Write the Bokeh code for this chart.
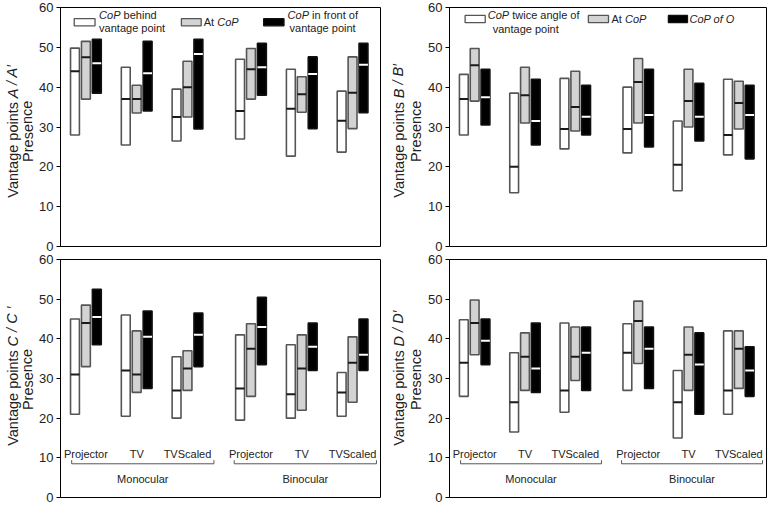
from bokeh.plotting import figure
from bokeh.layouts import gridplot
from bokeh.models import Range1d, FixedTicker
from bokeh.core.properties import value
from bokeh.embed import file_html
from bokeh.resources import INLINE

FONT = "Liberation Sans"
INK = "#222222"

conditions = ["Projector", "TV", "TVScaled", "Projector", "TV", "TVScaled"]
viewing = ["Monocular", "Binocular"]
group_x = [0, 1, 2, 3.25, 4.25, 5.25]
y_ticks = [0, 10, 20, 30, 40, 50, 60]

# (low, median, high) presence per condition
# vantage points A / A'
a_behind = [(28, 44, 49.8), (25.5, 37, 45), (26.5, 32.5, 39.5), (27, 34, 47), (22.7, 34.6, 44.5), (23.7, 31.6, 39)]
a_at = [(37, 47.5, 51.5), (33.5, 37, 40.5), (32.5, 40, 46.5), (37, 44.5, 49.7), (33.7, 38.2, 42.6), (29.6, 38.6, 47.6)]
a_front = [(38.5, 46, 52), (34, 43.5, 51.5), (29.5, 48.3, 52), (38, 45, 51), (29.6, 43.3, 47.6), (33.6, 45.6, 51)]

# vantage points B / B'
b_twice = [(28, 37, 43.2), (13.5, 20, 38.5), (24.5, 29.5, 42.2), (23.5, 29.5, 40), (14, 20.5, 31.5), (23, 28, 42)]
b_at = [(36.5, 45.5, 49.7), (31, 38, 45), (29, 35, 44), (31, 41.3, 47.2), (30, 36.5, 44.5), (29.5, 36, 41.5)]
b_of_o = [(30.5, 37.5, 44.5), (25.5, 31.5, 42), (28, 32.6, 40.5), (25, 33, 44.5), (26.5, 32.6, 41), (22, 33, 40.5)]

# vantage points C / C'
c_behind = [(21, 31, 45), (20.5, 32, 46), (20, 27, 35.5), (19.5, 27.5, 41), (20, 26, 38.5), (20.5, 26.5, 31.5)]
c_at = [(33, 44, 48.5), (26.5, 31, 42), (27, 32.5, 37), (25.5, 37.5, 43.8), (22, 32.5, 41), (24, 34, 40.5)]
c_front = [(38.5, 45.5, 52.5), (27.5, 40.5, 47), (33, 41, 46.5), (33.5, 43, 50.5), (32, 38, 44), (32, 36, 45)]

# vantage points D / D'
d_twice = [(25.5, 34, 44.8), (16.5, 24, 36.5), (21.5, 27, 44), (27, 36.5, 43.8), (15, 24, 32), (21, 27, 42)]
d_at = [(36, 44, 49.8), (27, 35.5, 41.5), (29.5, 35.5, 43), (33.8, 44.5, 49.5), (27, 36, 43), (27.5, 37.5, 42)]
d_of_o = [(33.5, 39.5, 45), (26.5, 32.5, 44), (27, 36.5, 43), (27.5, 37.5, 43), (21, 33.5, 41.5), (25.5, 32, 38)]

bar_w = 0.175
bar_step = 0.215
fills = ["white", "#d3d3d3", "black"]
edges = ["#555555", "#555555", "#111111"]
med_colors = ["#1a1a1a", "#1a1a1a", "white"]


def txt(p, x, y, s, italic=False, dx=0, align="left", size="11px", angle=0):
    p.text(x=[x], y=[y], text=[s], x_offset=dx, text_align=align, text_baseline="middle",
           angle=angle, text_font=value(FONT), text_font_size=size,
           text_font_style="italic" if italic else "normal", text_color=INK)


def make_panel(series, width, height, left, right, top, bottom):
    p = figure(width=width, height=height, x_range=Range1d(-0.5, 5.8), y_range=Range1d(0, 60),
               output_backend="svg", toolbar_location=None,
               min_border_left=left, min_border_right=right,
               min_border_top=top, min_border_bottom=bottom)
    p.xaxis.visible = False
    p.grid.visible = False
    p.outline_line_color = "black"
    p.outline_line_width = 1
    ax = p.yaxis[0]
    ax.ticker = FixedTicker(ticks=y_ticks)
    ax.minor_tick_line_color = None
    ax.major_tick_in = 0
    ax.major_tick_out = 4
    ax.major_label_standoff = 3
    ax.major_label_text_font = FONT
    ax.major_label_text_font_size = "13px"
    ax.major_label_text_color = INK
    ax.axis_line_color = "black"
    ax.major_tick_line_color = "black"

    for k, data in enumerate(series):
        lo = [d[0] for d in data]
        med = [d[1] for d in data]
        hi = [d[2] for d in data]
        xs = [g + (k - 1) * bar_step for g in group_x]
        p.vbar(x=xs, width=bar_w, bottom=lo, top=hi, fill_color=fills[k],
               line_color=edges[k], line_width=1.6)
        p.segment(x0=[x - bar_w / 2 for x in xs], y0=med, x1=[x + bar_w / 2 for x in xs], y1=med,
                  line_color=med_colors[k], line_width=2)
    return p


def title_strip(letter, width, height, x1, x2, yc):
    # narrow strip that carries the two-line y title (partly italic)
    p = figure(width=width, height=height, x_range=Range1d(0, width), y_range=Range1d(0, height),
               output_backend="svg", toolbar_location=None, min_border=0)
    p.axis.visible = False
    p.grid.visible = False
    p.outline_line_color = None
    txt(p, x1, yc + 31, "Vantage points", align="right", size="14.5px", angle=1.5708)
    txt(p, x1, yc + 35, letter, italic=True, align="left", size="14.5px", angle=1.5708)
    txt(p, x2, yc, "Presence", align="center", size="14.5px", angle=1.5708)
    return p


def add_categories(p):
    p.text(x=group_x, y=[11] * len(group_x), text=conditions, text_align="center",
           text_baseline="middle", text_font=value(FONT), text_font_size="11px", text_color=INK)
    for (x0, x1), name in zip([(-0.28, 2.52), (2.92, 5.72)], viewing):
        p.line([x0, x0, x1, x1], [9.4, 8.5, 8.5, 9.4], line_color="#555555", line_width=1)
        txt(p, (x0 + x1) / 2, 4.7, name, align="center")


def legend_boxes(p, spans, y0, y1):
    for (x0, x1), f, e in zip(spans, fills, edges):
        p.quad(left=[x0], right=[x1], bottom=[y0], top=[y1], fill_color=f, line_color=e, line_width=1.3)


pa = make_panel([a_behind, a_at, a_front], 350, 253, 21, 6, 7, 7)
pb = make_panel([b_twice, b_at, b_of_o], 347, 253, 21, 6, 7, 7)
pc = make_panel([c_behind, c_at, c_front], 350, 252, 21, 6, 6, 8)
pd = make_panel([d_twice, d_at, d_of_o], 347, 252, 21, 6, 6, 8)
add_categories(pc)
add_categories(pd)

ta = title_strip("A / A\u2032", 36, 253, 12, 27, 122)
tb = title_strip("B / B\u2032", 39, 253, 12, 29.5, 122)
tc = title_strip("C / C \u2032", 36, 252, 12, 27, 125)
td = title_strip("D / D\u2032", 39, 252, 12, 29.5, 125)

# legend A
legend_boxes(pa, [(-0.23, 0.18), (1.88, 2.27), (3.50, 3.90)], 55.4, 57.2)
txt(pa, 0.26, 58.1, "CoP", italic=True)
txt(pa, 0.26, 58.1, "behind", dx=24.5)
txt(pa, 0.26, 54.8, "vantage point")
txt(pa, 2.32, 56.3, "At")
txt(pa, 2.32, 56.3, "CoP", italic=True, dx=13.5)
txt(pa, 4.66, 58.1, "CoP", italic=True, dx=-35)
txt(pa, 4.66, 58.1, "in front of", dx=-10.5)
txt(pa, 4.66, 54.8, "vantage point", align="center")

# legend B
legend_boxes(pb, [(-0.19, 0.21), (2.26, 2.66), (3.85, 4.23)], 56.2, 58.0)
txt(pb, 0.26, 58.2, "CoP", italic=True)
txt(pb, 0.26, 58.2, "twice angle of", dx=24.5)
txt(pb, 0.26, 54.6, "vantage point", dx=5)
txt(pb, 2.72, 57.1, "At")
txt(pb, 2.72, 57.1, "CoP", italic=True, dx=13.5)
txt(pb, 4.27, 57.1, "CoP of O", italic=True)

grid = gridplot([[ta, pa, tb, pb], [tc, pc, td, pd]], toolbar_location=None)
open("out.html", "w").write(file_html(grid, INLINE))
